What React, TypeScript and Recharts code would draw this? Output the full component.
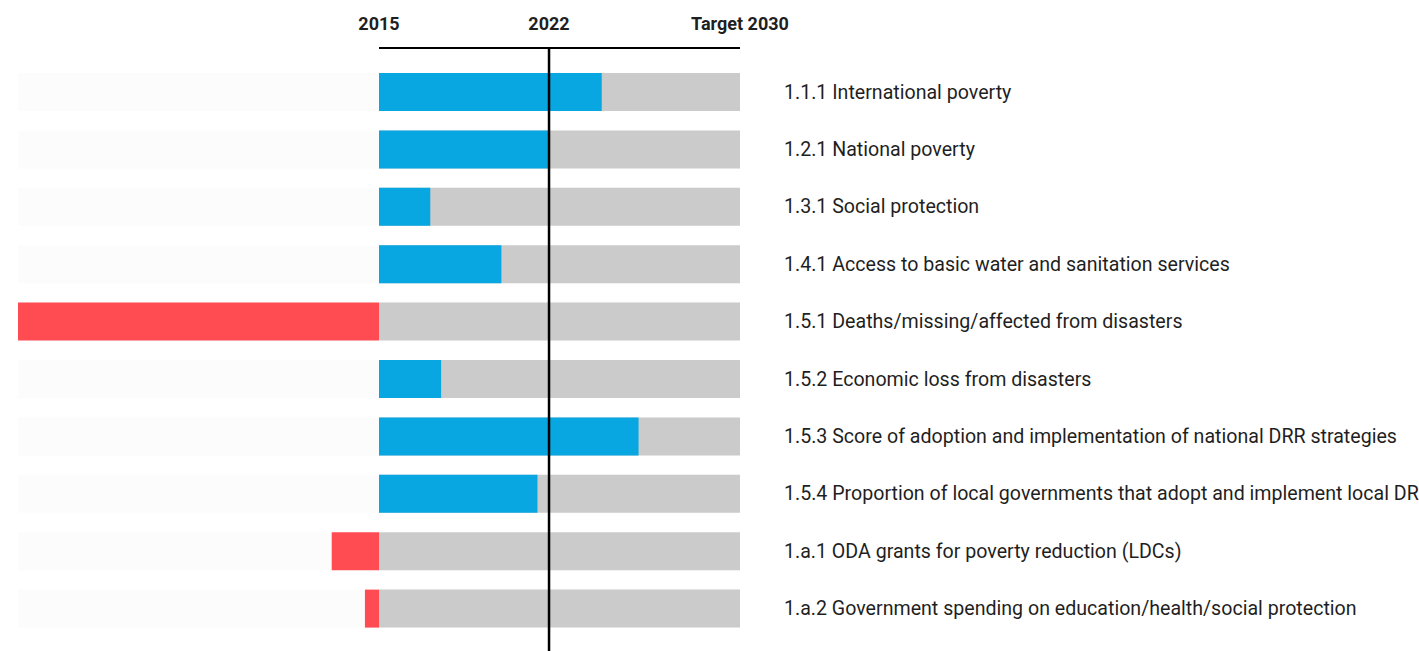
import { BarChart, Bar, XAxis, YAxis, Cell, ReferenceLine } from "recharts";

// SDG 1 indicators, progress from 2015 (0) towards the 2030 target (1)
const indicators = [
  "1.1.1 International poverty",
  "1.2.1 National poverty",
  "1.3.1 Social protection",
  "1.4.1 Access to basic water and sanitation services",
  "1.5.1 Deaths/missing/affected from disasters",
  "1.5.2 Economic loss from disasters",
  "1.5.3 Score of adoption and implementation of national DRR strategies",
  "1.5.4 Proportion of local governments that adopt and implement local DRR strategies",
  "1.a.1 ODA grants for poverty reduction (LDCs)",
  "1.a.2 Government spending on education/health/social protection",
];
const progress = [0.617, 0.469, 0.142, 0.339, -1, 0.172, 0.719, 0.439, -0.131, -0.039];
const targetLevel = 1;

const milestoneValues = [0, 0.471, 1];
const milestoneLabels = ["2015", "2022", "Target 2030"];

const BLUE = "#09a7e1";
const RED = "#ff4b52";
const TRACK = "#cbcbcb";
const BACKDROP = "#fcfcfc";
const INK = "#1f1f1f";

const data = indicators.map((label, i) => ({
  label,
  target: targetLevel,
  value: progress[i],
}));

function MilestoneTick(props: any) {
  const { x, y, payload } = props;
  const idx = milestoneValues.indexOf(payload.value);
  return (
    <text
      x={x}
      y={y}
      textAnchor="middle"
      fontSize={18}
      fontWeight={700}
      fontFamily="Roboto"
      fill={INK}
    >
      {milestoneLabels[idx]}
    </text>
  );
}

export default function App() {
  return (
    <div style={{ position: "absolute", left: 0, top: 0, fontFamily: "Roboto" }}>
      <BarChart
        width={1419}
        height={651}
        data={data}
        layout="vertical"
        margin={{ top: 18, right: 0, bottom: 0, left: 18 }}
        barGap={-38}
      >
        <XAxis
          type="number"
          orientation="top"
          domain={[-1, 1]}
          ticks={milestoneValues}
          height={30}
          axisLine={false}
          tickLine={false}
          tickSize={0}
          tickMargin={18}
          tick={<MilestoneTick />}
          allowDataOverflow
        />
        <YAxis
          yAxisId="cat"
          type="category"
          dataKey="label"
          orientation="right"
          width={679}
          axisLine={false}
          tickLine={false}
          tickSize={0}
          tickMargin={44}
          interval={0}
          padding={{ top: 15, bottom: 14 }}
          tick={{ fontSize: 19.6, fill: INK, fontFamily: "Roboto", textAnchor: "start" }}
        />
        <YAxis yAxisId="frame" type="category" dataKey="label" hide />
        <Bar
          yAxisId="cat"
          dataKey="target"
          fill={TRACK}
          barSize={38}
          background={{ fill: BACKDROP }}
          isAnimationActive={false}
        />
        <Bar yAxisId="cat" dataKey="value" barSize={38} isAnimationActive={false}>
          {data.map((d, i) => (
            <Cell key={i} fill={d.value < 0 ? RED : BLUE} />
          ))}
        </Bar>
        <ReferenceLine
          yAxisId="frame"
          segment={[
            { x: 0, y: indicators[0] },
            { x: 1, y: indicators[0] },
          ]}
          position="start"
          stroke="#000"
          strokeWidth={2}
          ifOverflow="visible"
        />
        <ReferenceLine
          yAxisId="frame"
          x={milestoneValues[1]}
          stroke="#000"
          strokeWidth={2.5}
          ifOverflow="visible"
        />
      </BarChart>
    </div>
  );
}
